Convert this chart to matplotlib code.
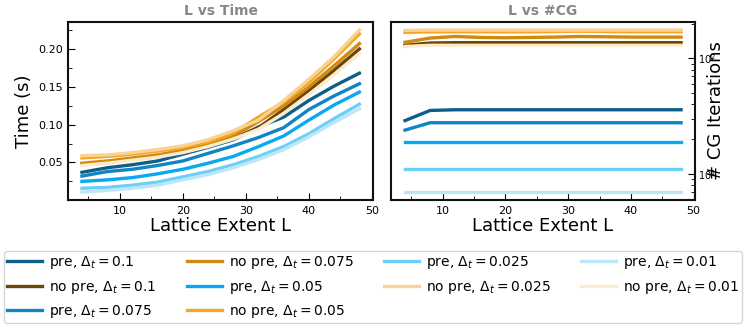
import matplotlib
matplotlib.use("Agg")
import matplotlib.pyplot as plt
from matplotlib.ticker import MultipleLocator

L = [4, 8, 12, 16, 20, 24, 28, 32, 36, 40, 44, 48]

labels = ["pre, $\\Delta_t = 0.1$", "no pre, $\\Delta_t = 0.1$",
          "pre, $\\Delta_t = 0.075$", "no pre, $\\Delta_t = 0.075$",
          "pre, $\\Delta_t = 0.05$", "no pre, $\\Delta_t = 0.05$",
          "pre, $\\Delta_t = 0.025$", "no pre, $\\Delta_t = 0.025$",
          "pre, $\\Delta_t = 0.01$", "no pre, $\\Delta_t = 0.01$"]

colors = ["#0d5f8a", "#6e4708", "#0f85c4", "#d08a12", "#0aa8f0",
          "#f6a623", "#6ccff6", "#f8d394", "#bde6f9", "#fcebcb"]

# time (s)
t_pre_01 = [0.037, 0.043, 0.047, 0.052, 0.061, 0.070, 0.080, 0.097, 0.110, 0.132, 0.151, 0.168]
t_nopre_01 = [0.048, 0.050, 0.054, 0.058, 0.064, 0.072, 0.082, 0.096, 0.120, 0.145, 0.172, 0.200]
t_pre_0075 = [0.032, 0.038, 0.041, 0.046, 0.052, 0.062, 0.072, 0.083, 0.096, 0.120, 0.138, 0.154]
t_nopre_0075 = [0.049, 0.052, 0.056, 0.060, 0.066, 0.074, 0.085, 0.104, 0.125, 0.150, 0.178, 0.207]
t_pre_005 = [0.025, 0.027, 0.030, 0.035, 0.041, 0.049, 0.058, 0.071, 0.085, 0.106, 0.126, 0.143]
t_nopre_005 = [0.056, 0.058, 0.061, 0.065, 0.070, 0.077, 0.089, 0.110, 0.130, 0.156, 0.187, 0.220]
t_pre_0025 = [0.016, 0.017, 0.020, 0.024, 0.031, 0.038, 0.047, 0.058, 0.071, 0.088, 0.108, 0.127]
t_nopre_0025 = [0.059, 0.060, 0.063, 0.067, 0.072, 0.080, 0.092, 0.106, 0.132, 0.160, 0.190, 0.225]
t_pre_001 = [0.011, 0.013, 0.016, 0.020, 0.027, 0.034, 0.043, 0.054, 0.067, 0.084, 0.103, 0.121]
t_nopre_001 = [0.046, 0.049, 0.053, 0.057, 0.063, 0.071, 0.081, 0.094, 0.115, 0.140, 0.166, 0.194]

# CG iterations
cg_pre_01 = [29, 35.5, 36, 36, 36, 36, 36, 36, 36, 36, 36, 36]
cg_nopre_01 = [130, 136, 137, 137, 137, 137, 137, 137, 137, 137, 137, 137]
cg_pre_0075 = [24, 27.8, 27.8, 27.8, 27.8, 27.8, 27.8, 27.8, 27.8, 27.8, 27.8, 27.8]
cg_nopre_0075 = [138, 150, 155, 152, 151, 152, 153, 155, 154, 153, 153, 153]
cg_pre_005 = [19, 19, 19, 19, 19, 19, 19, 19, 19, 19, 19, 19]
cg_nopre_005 = [168, 170, 170, 170, 170, 170, 171, 172, 171, 170, 170, 170]
cg_pre_0025 = [11, 11, 11, 11, 11, 11, 11, 11, 11, 11, 11, 11]
cg_nopre_0025 = [175, 176, 176, 176, 176, 176, 176, 176, 176, 176, 176, 176]
cg_pre_001 = [7, 7, 7, 7, 7, 7, 7, 7, 7, 7, 7, 7]
cg_nopre_001 = [127, 130, 130, 130, 130, 130, 130, 130, 130, 130, 130, 130]

times = [t_pre_01, t_nopre_01, t_pre_0075, t_nopre_0075, t_pre_005,
         t_nopre_005, t_pre_0025, t_nopre_0025, t_pre_001, t_nopre_001]
cgs = [cg_pre_01, cg_nopre_01, cg_pre_0075, cg_nopre_0075, cg_pre_005,
       cg_nopre_005, cg_pre_0025, cg_nopre_0025, cg_pre_001, cg_nopre_001]

fig = plt.figure(figsize=(7.48, 3.28), dpi=100)
ax1 = fig.add_axes([0.091, 0.39, 0.408, 0.543])
ax2 = fig.add_axes([0.523, 0.39, 0.406, 0.543])

lw = 2.4
handles = []
for y, c, lab in zip(times, colors, labels):
    h, = ax1.plot(L, y, color=c, lw=lw, label=lab)
    handles.append(h)
for y, c in zip(cgs, colors):
    ax2.plot(L, y, color=c, lw=lw)

ax2.set_yscale("log")

for ax in (ax1, ax2):
    for s in ax.spines.values():
        s.set_linewidth(1.5)
        s.set_color("#111111")
    ax.xaxis.set_major_locator(MultipleLocator(10))
    ax.xaxis.set_minor_locator(MultipleLocator(5))
    ax.tick_params(axis="both", which="both", direction="in", labelsize=8)
    ax.tick_params(axis="x", which="major", length=5, pad=4)
    ax.tick_params(axis="x", which="minor", length=3)
    ax.set_xlabel("Lattice Extent L", fontsize=13, labelpad=1)

ax1.yaxis.set_major_locator(MultipleLocator(0.05))
ax1.yaxis.set_minor_locator(MultipleLocator(0.025))
ax1.tick_params(axis="y", which="major", length=5)
ax1.tick_params(axis="y", which="minor", length=3)
ax1.set_ylabel("Time (s)", fontsize=13)
ax1.set_title("L vs Time", fontsize=10, color="#888888", fontweight="bold", pad=5)

ax2.yaxis.tick_right()
ax2.yaxis.set_label_position("right")
ax2.tick_params(axis="y", which="both", left=False, right=True, labelsize=7)
ax2.tick_params(axis="y", which="major", length=5, pad=2)
ax2.tick_params(axis="y", which="minor", length=3)
ax2.set_ylabel("# CG Iterations", fontsize=13, labelpad=-6)
ax2.set_title("L vs #CG", fontsize=10, color="#888888", fontweight="bold", pad=5)

fig.legend(handles=handles, labels=labels, ncol=4, loc="lower left",
           bbox_to_anchor=(0.006, 0.015, 0.986, 0.21), mode="expand",
           fontsize=10, frameon=True, fancybox=True, edgecolor="#cccccc",
           handlelength=2.5, handletextpad=0.5, labelspacing=0.55,
           borderpad=0.2, borderaxespad=0.0)

fig.savefig("out.png", dpi=100)
